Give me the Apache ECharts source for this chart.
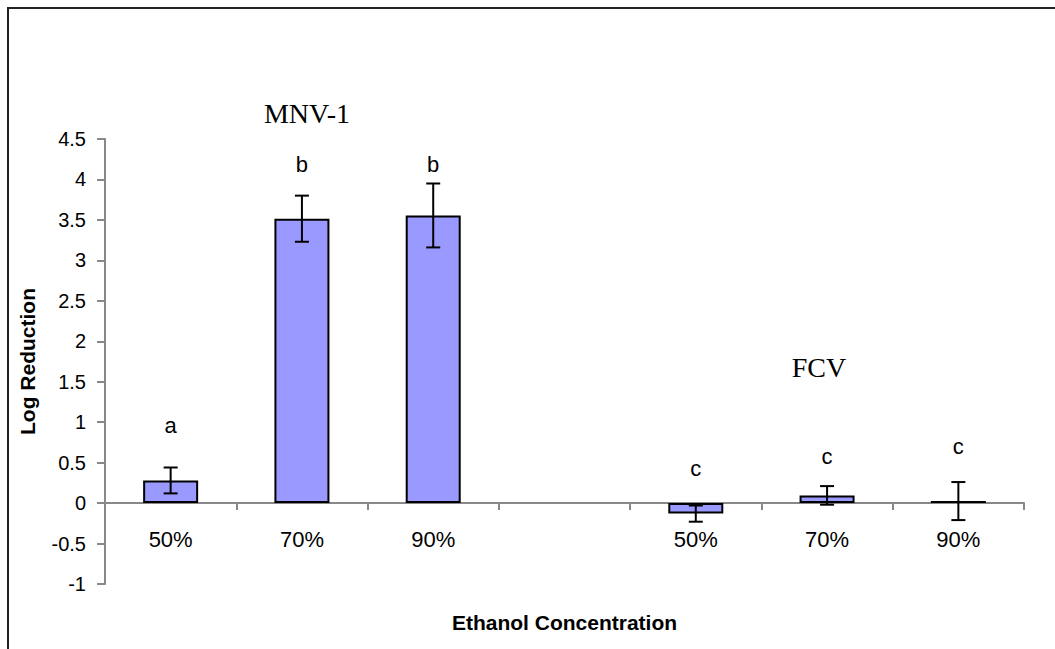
<!DOCTYPE html>
<html>
<head>
<meta charset="utf-8">
<script src="https://cdn.jsdelivr.net/npm/echarts@6/dist/echarts.min.js"></script>
<style>
html,body{margin:0;padding:0;background:#fff;}
#chart{width:1055px;height:649px;}
</style>
</head>
<body>
<div id="chart"></div>
<script>
// ---- data ----
const categories = ['50%', '70%', '90%', '', '50%', '70%', '90%'];
const groupLabels = ['MNV-1', 'FCV'];
const meanValues = [0.28, 3.515, 3.555, null, -0.13, 0.095, 0.025];
const errorValues = [0.16, 0.285, 0.395, null, 0.10, 0.115, 0.235];
const letters = ['a', 'b', 'b', '', 'c', 'c', 'c'];
const letterHeights = [0.96, 4.19, 4.19, null, 0.43, 0.58, 0.70];
const yTicks = { min: -1, max: 4.5, interval: 0.5 };

const chart = echarts.init(document.getElementById('chart'), null, { renderer: 'svg' });

const errorData = meanValues.map((m, i) => m === null ? null : [i, m - errorValues[i], m + errorValues[i]]).filter(d => d);
const letterData = letters.map((t, i) => letterHeights[i] === null ? null : [i, letterHeights[i], t]).filter(d => d);

const option = {
  animation: false,
  backgroundColor: '#ffffff',
  grid: { left: 105, right: 31, top: 139, bottom: 65, containLabel: false, outerBoundsMode: 'none' },
  xAxis: {
    type: 'category',
    data: categories,
    name: 'Ethanol Concentration',
    nameLocation: 'middle',
    nameGap: 28,
    nameMoveOverlap: false,
    nameTextStyle: { fontFamily: 'Liberation Sans', fontWeight: 'bold', fontSize: 21, color: '#000' },
    axisLine: { onZero: true, lineStyle: { color: '#888', width: 2 } },
    axisTick: { show: true, alignWithLabel: false, length: 7, lineStyle: { color: '#888', width: 2 } },
    axisLabel: { fontFamily: 'Liberation Sans', fontSize: 22, color: '#000', margin: -56, interval: 0 },
    splitLine: { show: false }
  },
  yAxis: {
    type: 'value',
    min: yTicks.min,
    max: yTicks.max,
    interval: yTicks.interval,
    name: 'Log Reduction',
    nameLocation: 'middle',
    nameGap: 67,
    nameTextStyle: { fontFamily: 'Liberation Sans', fontWeight: 'bold', fontSize: 21, color: '#000' },
    axisLine: { show: true, lineStyle: { color: '#888', width: 2 } },
    axisTick: { show: true, length: 8, lineStyle: { color: '#888', width: 2 } },
    axisLabel: { fontFamily: 'Liberation Sans', fontSize: 20, color: '#000', margin: 19 },
    splitLine: { show: false }
  },
  series: [
    {
      type: 'bar',
      data: meanValues.map(v => v === null ? '-' : v),
      barWidth: 55,
      itemStyle: { color: '#9999ff', borderColor: '#000', borderWidth: 2 },
      z: 2
    },
    {
      type: 'custom',
      z: 5,
      data: errorData,
      renderItem: function (params, api) {
        const x = api.value(0);
        const lo = api.coord([x, api.value(1)]);
        const hi = api.coord([x, api.value(2)]);
        const w = 7;
        const st = { stroke: '#000', lineWidth: 2 };
        return {
          type: 'group',
          children: [
            { type: 'line', shape: { x1: lo[0], y1: lo[1], x2: hi[0], y2: hi[1] }, style: st },
            { type: 'line', shape: { x1: lo[0] - w, y1: lo[1], x2: lo[0] + w, y2: lo[1] }, style: st },
            { type: 'line', shape: { x1: hi[0] - w, y1: hi[1], x2: hi[0] + w, y2: hi[1] }, style: st }
          ]
        };
      }
    },
    {
      type: 'custom',
      z: 6,
      data: letterData,
      renderItem: function (params, api) {
        const p = api.coord([api.value(0), api.value(1)]);
        return {
          type: 'text',
          x: p[0], y: p[1],
          style: {
            text: letters[api.value(0)],
            fontFamily: 'Liberation Sans', fontSize: 22, fill: '#000',
            align: 'center', verticalAlign: 'middle'
          }
        };
      }
    }
  ],
  graphic: [
    { type: 'rect', shape: { x: 8, y: 8, width: 1100, height: 700 }, style: { fill: 'none', stroke: '#222', lineWidth: 2 }, silent: true },
    { type: 'text', x: 307, y: 113, style: { text: groupLabels[0], fontFamily: 'Liberation Serif', fontSize: 28, fill: '#000', align: 'center', verticalAlign: 'middle' } },
    { type: 'text', x: 819, y: 367, style: { text: groupLabels[1], fontFamily: 'Liberation Serif', fontSize: 28, fill: '#000', align: 'center', verticalAlign: 'middle' } }
  ]
};
chart.setOption(option);
</script>
</body>
</html>
